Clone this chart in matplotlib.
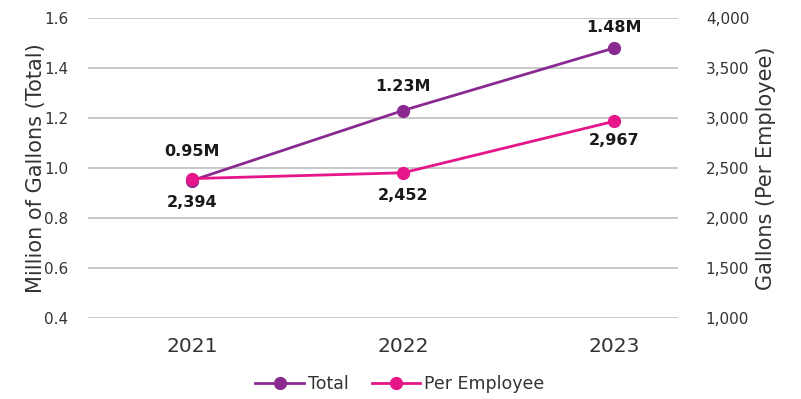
import matplotlib
matplotlib.use("Agg")
import matplotlib.pyplot as plt
from matplotlib.lines import Line2D

years = ["2021", "2022", "2023"]
total_millions = [0.95, 1.23, 1.48]
per_employee = [2394, 2452, 2967]
total_labels = ["0.95M", "1.23M", "1.48M"]
per_employee_labels = ["2,394", "2,452", "2,967"]
left_ticks = [0.4, 0.6, 0.8, 1.0, 1.2, 1.4, 1.6]
right_ticks = [1000, 1500, 2000, 2500, 3000, 3500, 4000]

PURPLE = "#8A2A91"
PINK = "#E6168A"
TEXT = "#333333"
GRID = "#C8C8C8"

plt.rcParams["font.family"] = ["DejaVu Sans"]

fig = plt.figure(figsize=(8.01, 3.99), dpi=100)
ax = fig.add_axes([88 / 801, 1 - 318 / 399, 590 / 801, 300 / 399])
ax2 = ax.twinx()

x = list(range(len(years)))
ax.set_xlim(-0.493, 2.303)
ax.set_ylim(left_ticks[0], left_ticks[-1])
ax2.set_ylim(right_ticks[0], right_ticks[-1])

ax.set_yticks(left_ticks)
ax.set_yticklabels([f"{v:.1f}" for v in left_ticks])
ax2.set_yticks(right_ticks)
ax2.set_yticklabels([f"{v:,}" for v in right_ticks])
ax.set_xticks(x)
ax.set_xticklabels(years)

for a in (ax, ax2):
    for s in a.spines.values():
        s.set_visible(False)
ax.tick_params(axis="y", length=0, pad=14, labelsize=11, labelcolor=TEXT)
ax2.tick_params(axis="y", length=0, pad=20, labelsize=11, labelcolor=TEXT)
ax.tick_params(axis="x", length=0, pad=14, labelsize=14.5, labelcolor=TEXT)
ax.grid(axis="y", color=GRID, linewidth=1.4)
ax.set_axisbelow(True)

ax.set_ylabel("Million of Gallons (Total)", fontsize=15, color=TEXT)
ax.yaxis.set_label_coords(-0.071, 0.5)
ax2.set_ylabel("Gallons (Per Employee)", fontsize=15, color=TEXT)
ax2.yaxis.set_label_coords(1.132, 0.5)

ax.plot(x, total_millions, color=PURPLE, linewidth=2, marker="o", markersize=8.5, zorder=3)
ax2.plot(x, per_employee, color=PINK, linewidth=2, marker="o", markersize=8.5, zorder=3)

total_offsets = [21, 17, 15]
pe_offsets = [-17, -16, -14]
for xi, v, lab, off in zip(x, total_millions, total_labels, total_offsets):
    ax2.annotate(lab, (xi, v), xycoords=ax.transData, xytext=(0, off), textcoords="offset points",
                 ha="center", va="center", fontsize=11.5, fontweight="bold", color="#1a1a1a")
for xi, v, lab, off in zip(x, per_employee, per_employee_labels, pe_offsets):
    ax2.annotate(lab, (xi, v), xytext=(0, off), textcoords="offset points",
                 ha="center", va="center", fontsize=11.5, fontweight="bold", color="#1a1a1a")

handles = [
    Line2D([], [], color=PURPLE, linewidth=2, marker="o", markersize=8.5),
    Line2D([], [], color=PINK, linewidth=2, marker="o", markersize=8.5),
]
fig.legend(handles, ["Total", "Per Employee"], loc="center", bbox_to_anchor=(400 / 801, 1 - 384 / 399),
           ncol=2, frameon=False, fontsize=12.5, handlelength=2.8, handletextpad=0.25,
           columnspacing=1.3, labelcolor=TEXT)

fig.savefig("out.png", dpi=100)
